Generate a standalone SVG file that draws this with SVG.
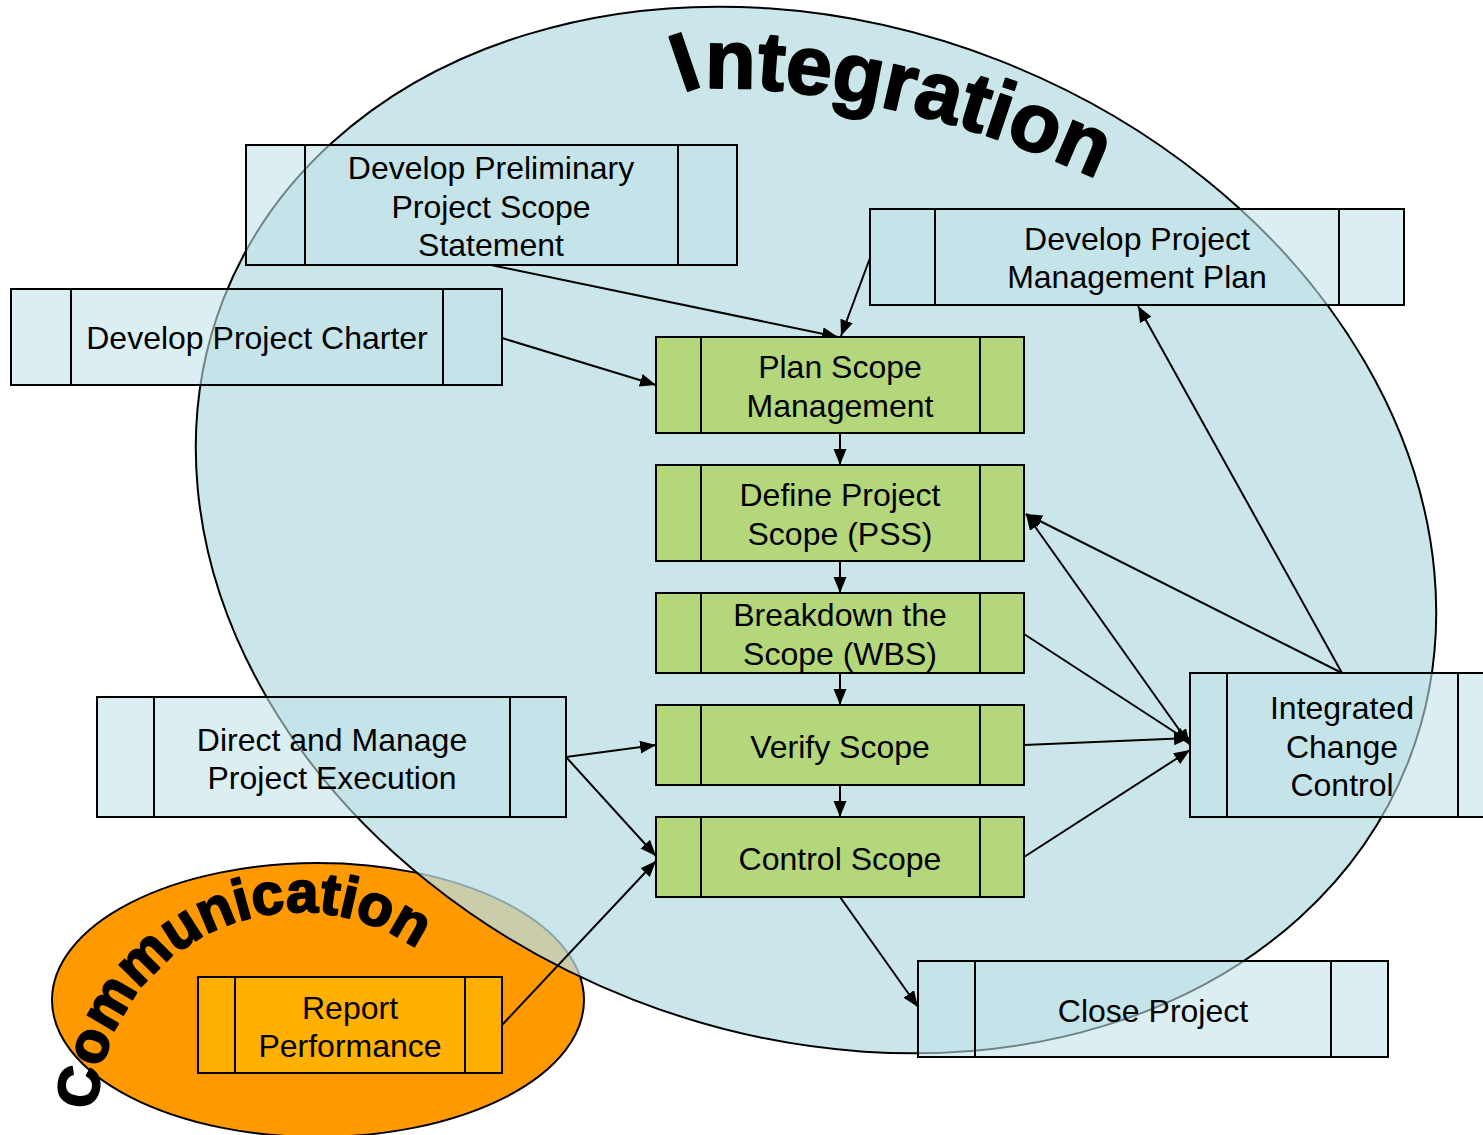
<svg xmlns="http://www.w3.org/2000/svg" width="1483" height="1135" viewBox="0 0 1483 1135">
<style>
.lb{fill:rgb(193,226,233);fill-opacity:0.58;stroke:#000;stroke-width:2}
.gr{fill:#B3D77A;stroke:#000;stroke-width:2}
.rp{fill:#FFB000;stroke:#000;stroke-width:2}
.ln{stroke:#000;stroke-width:2;fill:none}
.t{font-family:"Liberation Sans",Arial,sans-serif;font-size:32px;text-anchor:middle;fill:#000}
.big{font-family:"Liberation Sans",Arial,sans-serif;font-weight:bold;fill:#000;stroke:#000;stroke-linejoin:round}
.c{stroke:#000;stroke-width:2;fill:none;marker-end:url(#ah)}
</style>
<defs>
<marker id="ah" markerUnits="userSpaceOnUse" markerWidth="17" markerHeight="14" refX="16" refY="6.5" orient="auto-start-reverse">
<path d="M0,0 L16,6.5 L0,13 z" fill="#000"/>
</marker>
<path id="intPath" d="M682,90 C785,80 952,110 1108,184"/>
<path id="comPath" d="M97,1110 A203,203 0 0 1 440,968"/>
</defs>
<rect width="1483" height="1135" fill="#fff"/>
<g id="communication-area">
<ellipse cx="318" cy="1000" rx="266" ry="137" fill="#FF9900" stroke="#000" stroke-width="2"/>
<text class="big" font-size="58" stroke-width="2"><textPath href="#comPath">Communication</textPath></text>
</g>
<g id="integration-area">
<ellipse cx="816" cy="530" rx="636" ry="504" transform="rotate(21.3 816 530)" fill="rgb(185,221,227)" fill-opacity="0.75" stroke="#000" stroke-width="2"/>
<text class="big" font-size="83" stroke-width="2" rotate="-15 0"><textPath href="#intPath">Integration</textPath></text>
</g>
<g id="connectors">
<path class="c" d="M491,265 L838,337"/>
<path class="c" d="M870,258 L841,336"/>
<path class="c" d="M502,338 L656,385"/>
<path class="c" d="M840,433 L840,465"/>
<path class="c" d="M840,561 L840,593"/>
<path class="c" d="M840,673 L840,705"/>
<path class="c" d="M840,785 L840,817"/>
<path class="c" d="M566,757 L656,745"/>
<path class="c" d="M566,757 L656,856"/>
<path class="c" d="M502,1025 L656,861"/>
<path class="c" d="M840,897 L918,1007"/>
<path class="c" d="M1024,857 L1190,750"/>
<path class="c" d="M1024,745 L1190,738"/>
<path class="c" d="M1024,634 L1190,742"/>
<path class="c" d="M1026,514 L1190,745" marker-start="url(#ah)"/>
<path class="c" d="M1342,673 L1026,514"/>
<path class="c" d="M1342,673 L1138,306"/>
</g>
<g id="develop-preliminary-scope">
<rect class="lb" x="246" y="145" width="491" height="120"/>
<path class="ln" d="M305,145 V265 M678,145 V265"/>
<text class="t" x="491" y="179">Develop Preliminary</text>
<text class="t" x="491" y="218">Project Scope</text>
<text class="t" x="491" y="256">Statement</text>
</g>
<g id="develop-project-charter">
<rect class="lb" x="11" y="289" width="491" height="96"/>
<path class="ln" d="M71,289 V385 M443,289 V385"/>
<text class="t" x="257" y="349">Develop Project Charter</text>
</g>
<g id="develop-pm-plan">
<rect class="lb" x="870" y="209" width="534" height="96"/>
<path class="ln" d="M935,209 V305 M1339,209 V305"/>
<text class="t" x="1137" y="250">Develop Project</text>
<text class="t" x="1137" y="288">Management Plan</text>
</g>
<g id="plan-scope-management">
<rect class="gr" x="656" y="337" width="368" height="96"/>
<path class="ln" d="M701,337 V433 M980,337 V433"/>
<text class="t" x="840" y="378">Plan Scope</text>
<text class="t" x="840" y="417">Management</text>
</g>
<g id="define-project-scope">
<rect class="gr" x="656" y="465" width="368" height="96"/>
<path class="ln" d="M701,465 V561 M980,465 V561"/>
<text class="t" x="840" y="506">Define Project</text>
<text class="t" x="840" y="545">Scope (PSS)</text>
</g>
<g id="breakdown-scope">
<rect class="gr" x="656" y="593" width="368" height="80"/>
<path class="ln" d="M701,593 V673 M980,593 V673"/>
<text class="t" x="840" y="626">Breakdown the</text>
<text class="t" x="840" y="665">Scope (WBS)</text>
</g>
<g id="verify-scope">
<rect class="gr" x="656" y="705" width="368" height="80"/>
<path class="ln" d="M701,705 V785 M980,705 V785"/>
<text class="t" x="840" y="758">Verify Scope</text>
</g>
<g id="control-scope">
<rect class="gr" x="656" y="817" width="368" height="80"/>
<path class="ln" d="M701,817 V897 M980,817 V897"/>
<text class="t" x="840" y="870">Control Scope</text>
</g>
<g id="direct-manage-execution">
<rect class="lb" x="97" y="697" width="469" height="120"/>
<path class="ln" d="M154,697 V817 M510,697 V817"/>
<text class="t" x="332" y="751">Direct and Manage</text>
<text class="t" x="332" y="789">Project Execution</text>
</g>
<g id="integrated-change-control">
<rect class="lb" x="1190" y="673" width="310" height="144"/>
<path class="ln" d="M1227,673 V817 M1458,673 V817"/>
<text class="t" x="1342" y="719">Integrated</text>
<text class="t" x="1342" y="758">Change</text>
<text class="t" x="1342" y="796">Control</text>
</g>
<g id="close-project">
<rect class="lb" x="918" y="961" width="470" height="96"/>
<path class="ln" d="M975,961 V1057 M1331,961 V1057"/>
<text class="t" x="1153" y="1022">Close Project</text>
</g>
<g id="report-performance">
<rect class="rp" x="198" y="977" width="304" height="96"/>
<path class="ln" d="M235,977 V1073 M465,977 V1073"/>
<text class="t" x="350" y="1019">Report</text>
<text class="t" x="350" y="1057">Performance</text>
</g>
</svg>
